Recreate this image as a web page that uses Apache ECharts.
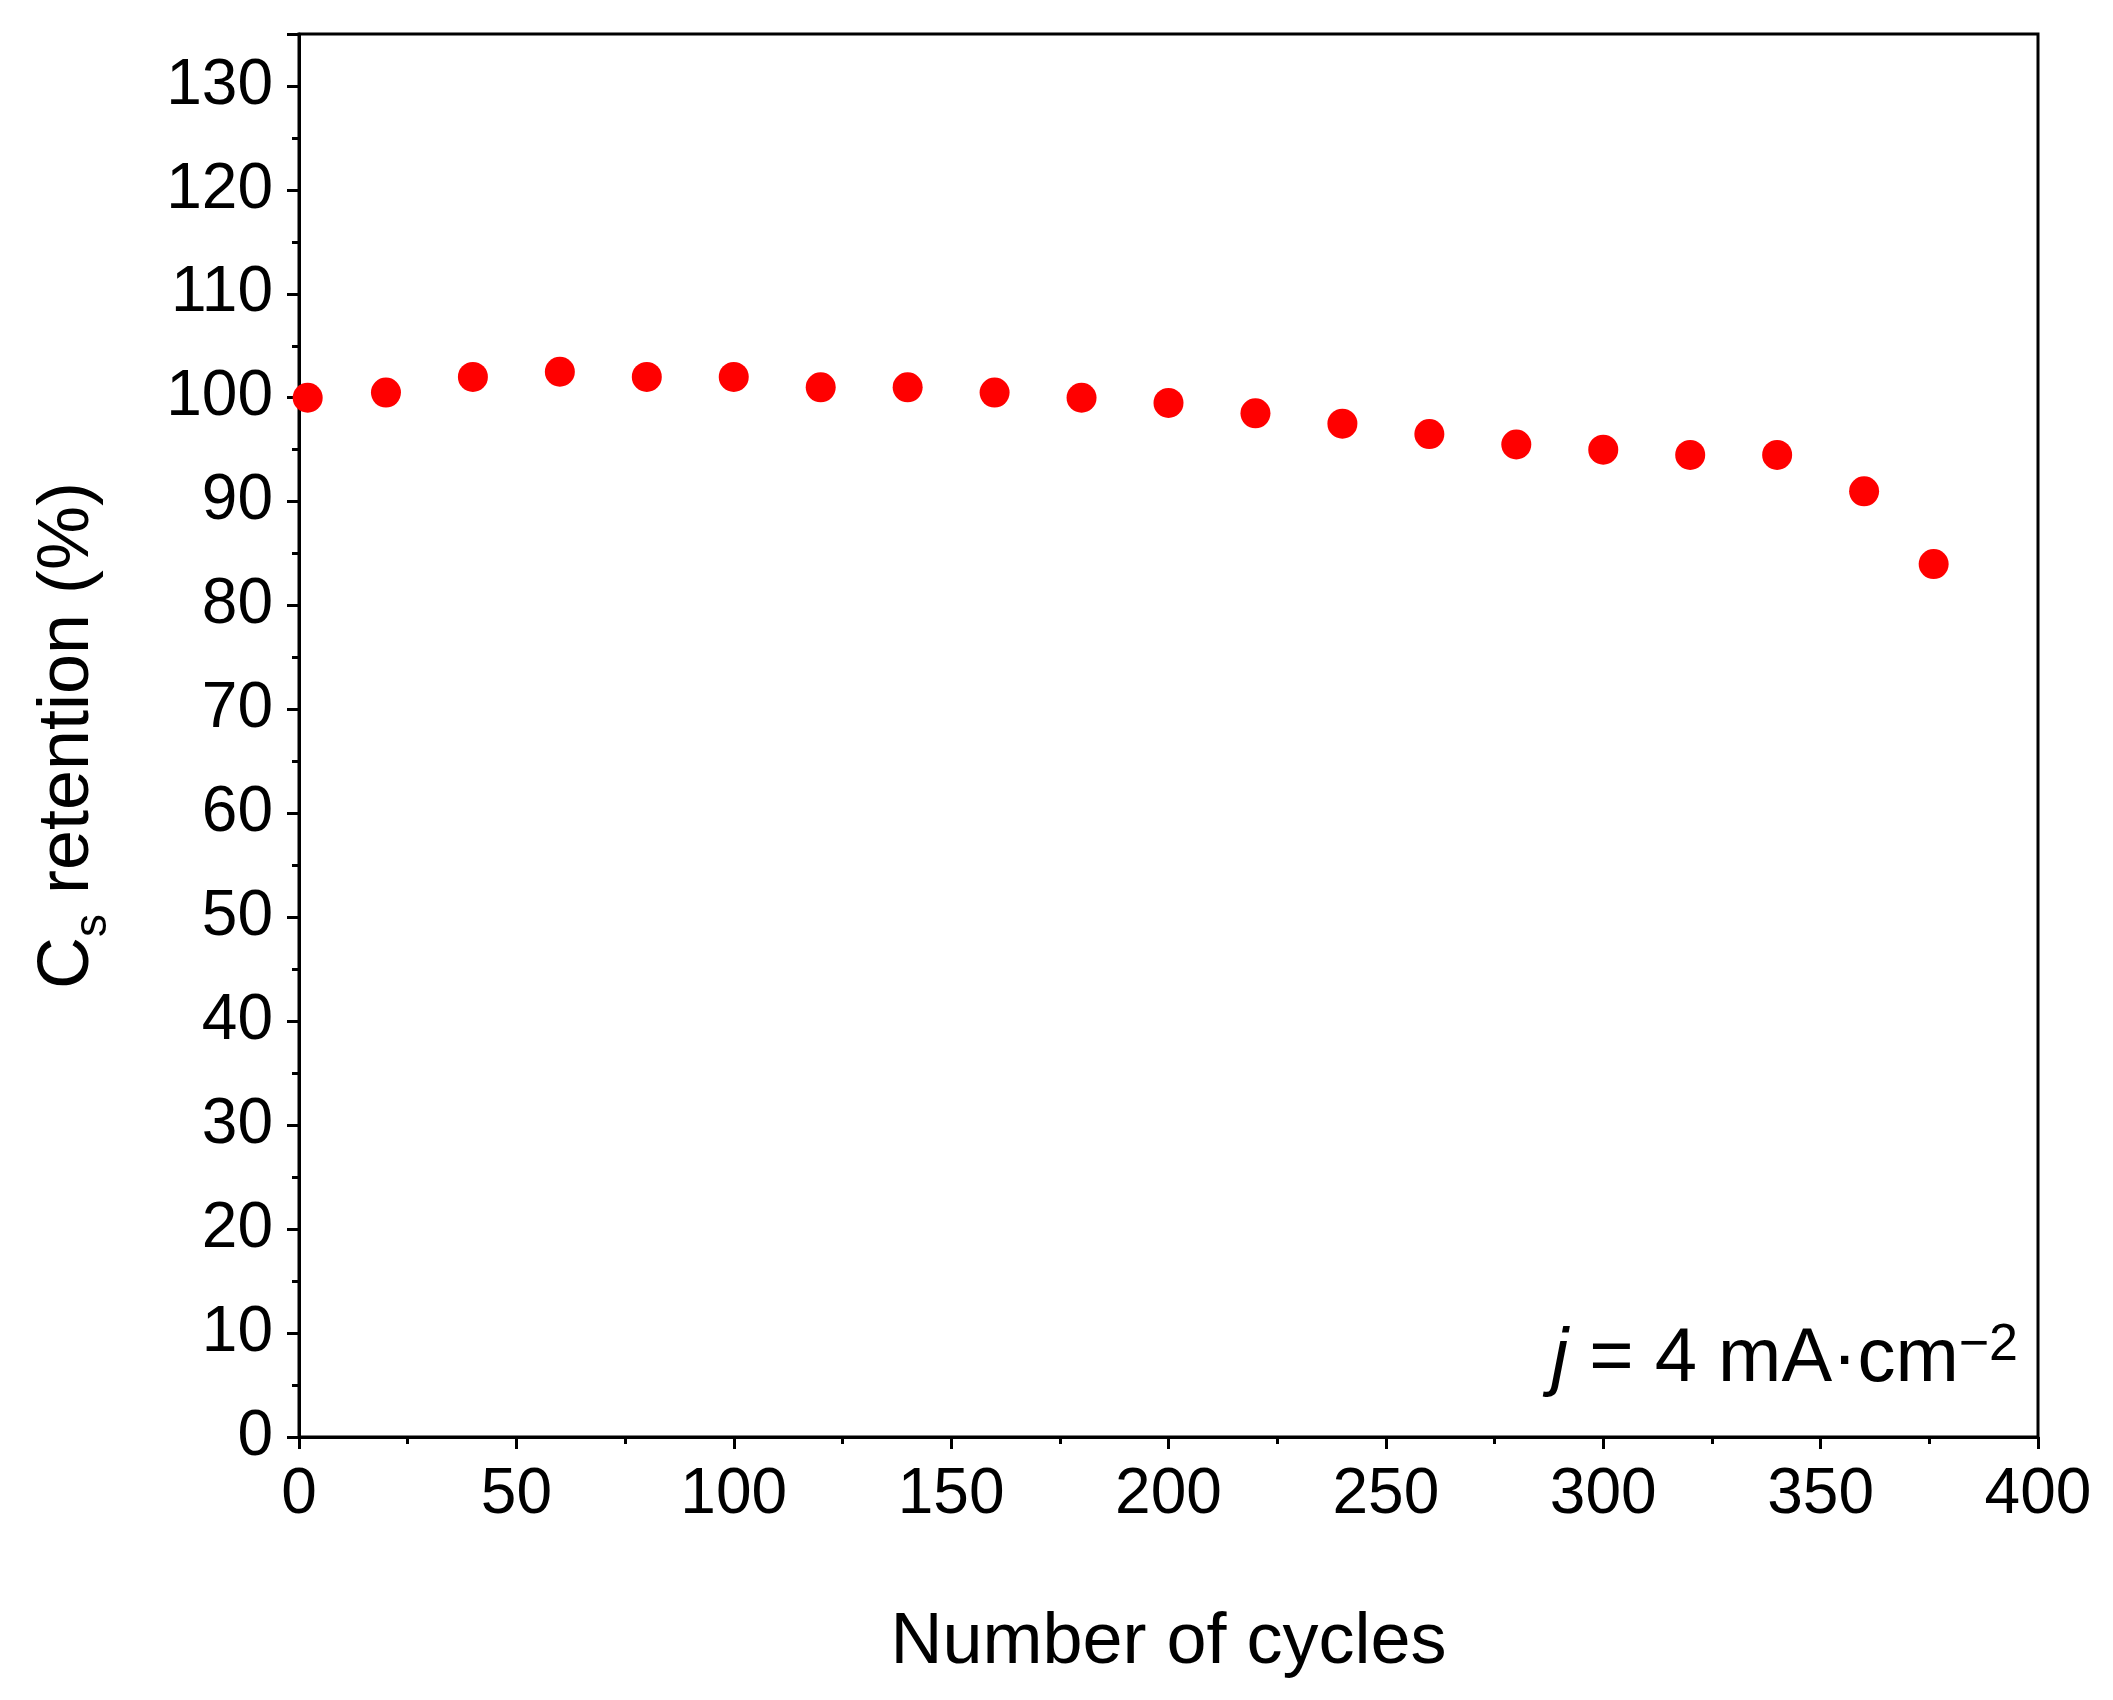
<!DOCTYPE html>
<html>
<head>
<meta charset="utf-8">
<script src="https://cdn.jsdelivr.net/npm/echarts@6/dist/echarts.min.js"></script>
<style>html,body{margin:0;padding:0;background:#fff}#main{width:2113px;height:1700px}</style>
</head>
<body>
<div id="main"></div>
<script>
var chart = echarts.init(document.getElementById('main'));
var cycles = [2, 20, 40, 60, 80, 100, 120, 140, 160, 180, 200, 220, 240, 260, 280, 300, 320, 340, 360, 376];
var retention = [100, 100.5, 102, 102.5, 102, 102, 101, 101, 100.5, 100, 99.5, 98.5, 97.5, 96.5, 95.5, 95, 94.5, 94.5, 91, 84];
var points = cycles.map(function (c, i) { return [c, retention[i]]; });

var font = 'Liberation Sans';
var axisCommon = {
    axisLine: { show: true, onZero: false, lineStyle: { color: '#000', width: 3 } },
    axisTick: { show: true, inside: false, length: 12, lineStyle: { color: '#000', width: 3 } },
    minorTick: { show: true, splitNumber: 2, length: 7, lineStyle: { color: '#000', width: 3 } },
    splitLine: { show: false },
    axisLabel: { color: '#000', fontSize: 64, fontFamily: font, margin: 26 }
};

option = {
    animation: false,
    grid: { left: 299, right: 75, top: 34, bottom: 263, show: true, borderColor: '#000', borderWidth: 3 },
    xAxis: Object.assign({
        type: 'value', min: 0, max: 400, interval: 50,
        name: 'Number of cycles', nameLocation: 'middle', nameGap: 170,
        nameTextStyle: { color: '#000', fontSize: 72, fontFamily: font }
    }, axisCommon),
    yAxis: Object.assign({
        type: 'value', min: 0, max: 135, interval: 10,
        name: '{a|C}{s|s}{a| retention (%)}', nameLocation: 'middle', nameGap: 195,
        nameTextStyle: {
            rich: {
                a: { color: '#000', fontSize: 72, fontFamily: font },
                s: { color: '#000', fontSize: 46, fontFamily: font, verticalAlign: 'bottom', padding: [0, 0, -12, 0] }
            }
        }
    }, axisCommon),
    series: [{
        type: 'scatter',
        data: points,
        symbol: 'circle',
        symbolSize: 30,
        itemStyle: { color: '#ff0000', opacity: 1 }
    }],
    graphic: [{
        type: 'text',
        right: 95,
        top: 1320,
        style: {
            text: '{i|j} = 4 mA·cm{sup|−2}',
            fill: '#000',
            font: '76px "Liberation Sans"',
            rich: {
                i: { fontSize: 76, fontStyle: 'italic', fontFamily: font, fill: '#000' },
                sup: { fontSize: 52, fontFamily: font, fill: '#000', verticalAlign: 'top', padding: [0, 0, 28, 0] }
            }
        }
    }]
};
chart.setOption(option);
</script>
</body>
</html>
